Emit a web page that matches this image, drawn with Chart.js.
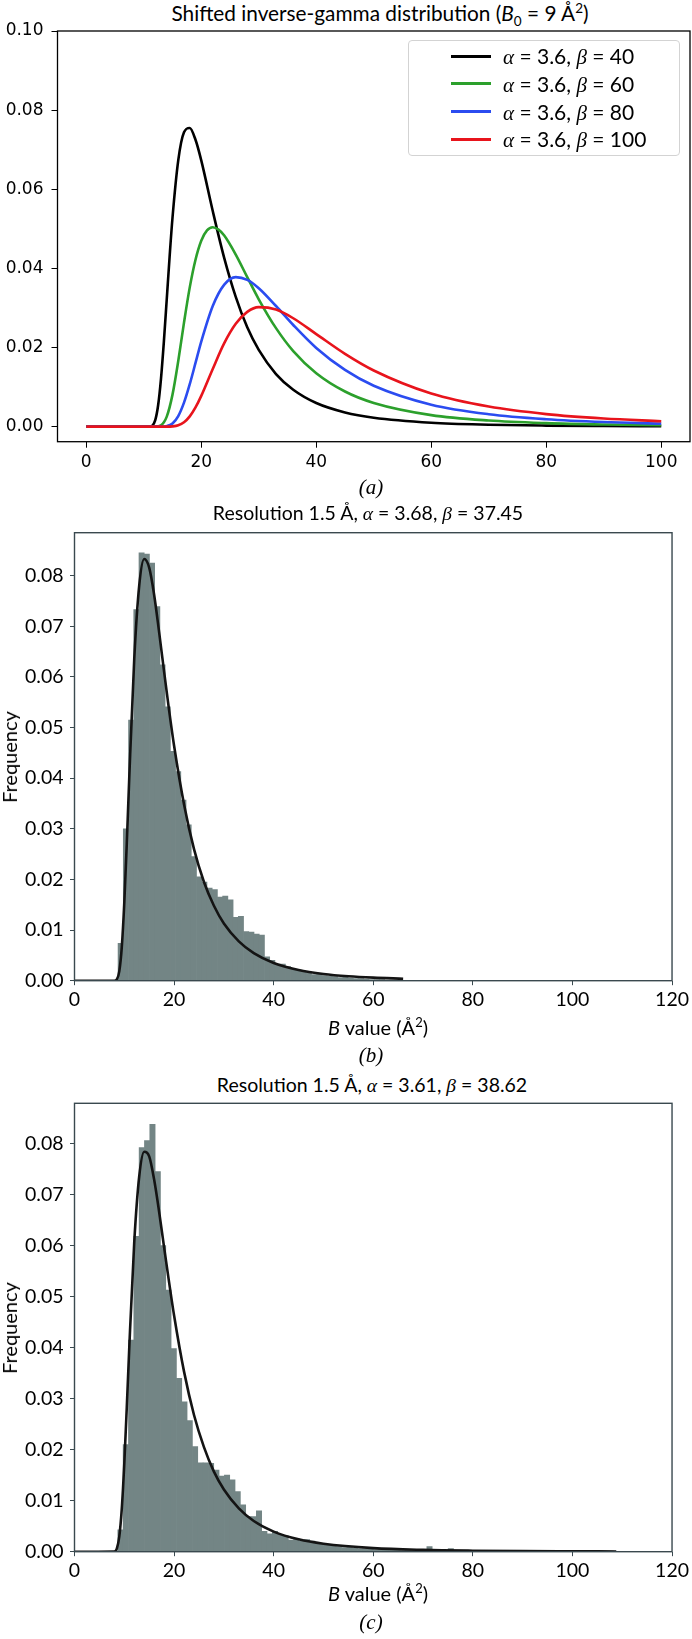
<!DOCTYPE html>
<html><head><meta charset="utf-8">
<script src="https://cdn.jsdelivr.net/npm/chart.js@4.4.1/dist/chart.umd.min.js"></script>
<style>
body{margin:0;background:#fff;}
#page{position:relative;width:692px;height:1639px;overflow:hidden;background:#fff;font-family:Lato,sans-serif;color:#000;}
.t{position:absolute;white-space:nowrap;transform:translate(-50%,-50%);line-height:1;}
.g{font-family:"Liberation Serif",serif;font-style:italic;}
.cap{font-family:"Liberation Serif",serif;font-style:italic;font-size:21px;}
.cv{position:absolute;left:0;}
#legend{position:absolute;left:408px;top:40px;width:272px;height:116px;border:1px solid #d3d3d3;border-radius:4px;box-sizing:border-box;background:rgba(255,255,255,0.8);}
.row{position:absolute;left:0;height:28px;}
.sw{position:absolute;left:42px;width:40px;height:3px;}
.lt{position:absolute;left:94px;font-size:21px;white-space:nowrap;transform:translateY(-50%);line-height:1;}
sub,sup{font-size:65%;line-height:0;}
</style></head><body><div id="page">

<div class="t" style="left:380px;top:13px;font-size:20.8px;">Shifted inverse-gamma distribution (<i>B</i><sub>0</sub> = 9 Å<sup>2</sup>)</div>
<canvas id="ca" class="cv" style="top:0px" width="692" height="480"></canvas>
<div id="legend"></div>
<div class="t cap" style="left:371px;top:487px;">(a)</div>

<div class="t" style="left:368px;top:513px;font-size:19.5px;">Resolution 1.5 Å, <span class="g">α</span> = 3.68, <span class="g">β</span> = 37.45</div>
<canvas id="cb" class="cv" style="top:500px" width="692" height="530"></canvas>
<div class="t" style="left:9px;top:757px;font-size:20px;transform:translate(-50%,-50%) rotate(-90deg);">Frequency</div>
<div class="t" style="left:378px;top:1027px;font-size:20px;"><i>B</i> value (Å<sup>2</sup>)</div>
<div class="t cap" style="left:371px;top:1055px;">(b)</div>

<div class="t" style="left:372px;top:1085px;font-size:19.5px;">Resolution 1.5 Å, <span class="g">α</span> = 3.61, <span class="g">β</span> = 38.62</div>
<canvas id="cc" class="cv" style="top:1070px" width="692" height="530"></canvas>
<div class="t" style="left:9px;top:1328px;font-size:20px;transform:translate(-50%,-50%) rotate(-90deg);">Frequency</div>
<div class="t" style="left:378px;top:1593px;font-size:20px;"><i>B</i> value (Å<sup>2</sup>)</div>
<div class="t cap" style="left:371px;top:1622px;">(c)</div>

</div>
<script>
// ---------------- Panel (a): shifted inverse-gamma curves ----------------
const seriesLabels = ['α = 3.6, β = 40','α = 3.6, β = 60','α = 3.6, β = 80','α = 3.6, β = 100'];
const seriesColors = ['#000000','#2ca02c','#2b4cf0','#e8141c'];
const xBeta40 = [0,10,11,11.5,12,12.5,13,13.5,14,14.5,15,16,17,18,19,20,22,24,26,28,30,33,36,40,45,50,60,70,80,90,100];
const yBeta40 = [0,0,0.00001,0.00026,0.00163,0.0054,0.01216,0.0215,0.0322,0.0430,0.0528,0.0673,0.0744,0.0755,0.0725,0.0673,0.0545,0.0426,0.0328,0.0251,0.0194,0.0133,0.00933,0.00598,0.0036,0.00226,0.0010,0.0005,0.00027,0.00016,0.0001];
const xBeta60 = [0,12,13,14,15,16,17,18,19,20,21,22,23,24,26,28,30,33,36,40,45,50,60,70,80,90,100];
const yBeta60 = [0,0,0.00035,0.00254,0.0081,0.0166,0.0263,0.0352,0.0422,0.0470,0.0496,0.0504,0.0498,0.0483,0.0435,0.0378,0.0322,0.0249,0.0191,0.0135,0.00888,0.00599,0.00292,0.00155,0.00089,0.00054,0.00034];
const xBeta80 = [0,13,14,15,16,17,18,19,20,22,24,26,28,30,33,36,40,45,50,60,70,80,90,100];
const yBeta80 = [0,0,0.00013,0.00081,0.00269,0.00608,0.01074,0.0161,0.0215,0.0305,0.0359,0.0378,0.0371,0.0350,0.0305,0.0257,0.0199,0.01435,0.01035,0.00556,0.00315,0.00189,0.00118,0.00077];
const xBeta100 = [0,14,15,16,17,18,19,20,22,24,26,28,30,33,36,40,45,50,60,70,80,90,100];
const yBeta100 = [0,0,0.000065,0.000345,0.00111,0.0026,0.00486,0.00779,0.0146,0.0211,0.0260,0.0290,0.0302,0.0296,0.0274,0.0234,0.0184,0.0142,0.00838,0.00508,0.00318,0.00206,0.00138];
const xTicksA = [0,20,40,60,80,100];
const yTicksA = [0,0.02,0.04,0.06,0.08,0.10];

// ---------------- Panel (b): histogram + fit ----------------
const binStartB = 8.75, binWidthB = 1.05;
const freqB = [0.0074,0.0300,0.0515,0.0733,0.0845,0.0843,0.0825,0.0739,0.0624,0.0541,0.0453,0.0413,0.0357,0.0308,0.0245,0.0205,0.0195,0.0183,0.0180,0.0165,0.0167,0.0160,0.0125,0.0127,0.0097,0.0096,0.0092,0.0090,0.0047,0.0040,0.0033,0.0033,0.0028,0.0024,0.0021,0.0018,0.0016,0.0012,0.0014,0.0010,0.0009,0.0008,0.0006,0.0007,0.0005,0.0004,0.0004,0.0003,0.0002,0.0002,0.0002,0.0001,0.0001];
const fitXB = [0,8,8.5,9,9.5,10,10.5,11,12,13,14,15,16,17,18,19,20,22,24,26,28,30,33,36,40,45,50,55,60,66];
const fitYB = [0,0,0.00026,0.0019,0.0067,0.0154,0.0271,0.0402,0.0636,0.0781,0.0833,0.0816,0.0762,0.0688,0.0610,0.0534,0.0464,0.0348,0.0260,0.0195,0.0148,0.0113,0.00776,0.00544,0.0035,0.00212,0.00134,0.00088,0.0006,0.00039];

// ---------------- Panel (c): histogram + fit ----------------
const binStartC = 8.7, binWidthC = 1.07;
const freqC = [0.0043,0.0210,0.0415,0.0618,0.0792,0.0806,0.0838,0.0745,0.0600,0.0513,0.0398,0.0340,0.0294,0.0257,0.0206,0.0174,0.0174,0.0173,0.0160,0.0148,0.0150,0.0141,0.0118,0.0092,0.0069,0.0069,0.0080,0.0040,0.0035,0.0040,0.0034,0.0031,0.0023,0.0026,0.0021,0.0024,0.0021,0.0017,0.0015,0.0013,0.0011,0.0010,0.0008,0.0009,0.0007,0.0006,0.0006,0.0005,0.0004,0.0004,0.0003,0.0003,0.0003,0.0002,0.0002,0.0002,0.0003,0.0002,0.0010,0.0002,0.0002,0.0002,0.0006,0.0002,0.0001,0.0001,0.0001,0.0001,0.0001,0.0001,0.0001,0.0001,0.0001,0.0001,0.0001,0.0001,0.0001,0.0001,0.0001,0.0001,0.0001,0.0001,0.0001,0.0001,0.0001,0.0001,0.0001,0.0001,0.0001,0.0001,0.0001,0.0001,0.0001];
const fitXC = [0,8,8.5,9,9.5,10,10.5,11,12,13,14,15,16,17,18,19,20,22,24,26,28,30,33,36,40,45,50,60,70,80,90,100,108.8];
const fitYC = [0,0.00005,0.00062,0.0030,0.0085,0.0173,0.0283,0.0400,0.0607,0.0736,0.0784,0.0775,0.0729,0.0666,0.0596,0.0528,0.0463,0.0353,0.0268,0.0205,0.0157,0.0122,0.00849,0.00602,0.00394,0.00242,0.00156,0.00071,0.00036,0.0002,0.00012,0.00008,0.00005];
const xTicksBC = [0,20,40,60,80,100,120];
const yTicksBC = [0,0.01,0.02,0.03,0.04,0.05,0.06,0.07,0.08];

// ---------------- helpers ----------------
const pts = (xs, ys) => xs.map((x, i) => ({x, y: ys[i]}));
const bars = (start, w, ys) => ys.map((y, i) => ({x: start + (i + 0.5) * w, y}));
const frame = (color, width) => ({id: 'frame', afterDatasetsDraw(chart) {
  const {ctx, chartArea: a} = chart; ctx.save(); ctx.strokeStyle = color; ctx.lineWidth = width;
  ctx.strokeRect(a.left, a.top, a.right - a.left, a.bottom - a.top); ctx.restore(); }});
function axis(o) {
  return {
    type: 'linear', min: o.min, max: o.max, offset: false,
    afterBuildTicks: s => { s.ticks = o.ticks.map(v => ({value: v})); },
    afterFit: s => { if (o.width !== undefined) s.width = o.width; if (o.height !== undefined) s.height = o.height; },
    border: {display: false},
    grid: {drawOnChartArea: false, offset: false, drawTicks: true, tickLength: o.tl, color: o.tc, tickWidth: 1},
    ticks: {color: '#000', font: o.font, padding: o.pad, autoSkip: false, maxRotation: 0, callback: o.fmt}
  };
}

// Panel (a)
const fontA = {family: 'DejaVu Sans', size: 17};
new Chart(document.getElementById('ca'), {
  type: 'line',
  data: {datasets: [
    {label: seriesLabels[0], data: pts(xBeta40, yBeta40), borderColor: seriesColors[0], order: 3},
    {label: seriesLabels[1], data: pts(xBeta60, yBeta60), borderColor: seriesColors[1], order: 2},
    {label: seriesLabels[2], data: pts(xBeta80, yBeta80), borderColor: seriesColors[2], order: 1},
    {label: seriesLabels[3], data: pts(xBeta100, yBeta100), borderColor: seriesColors[3], order: 0}
  ]},
  options: {
    responsive: false, animation: false, events: [],
    layout: {padding: {left: 0, right: 2, top: 31, bottom: 8.3}},
    elements: {line: {borderWidth: 2.6, cubicInterpolationMode: 'monotone', fill: false}, point: {radius: 0}},
    plugins: {legend: {display: false}, tooltip: {enabled: false}},
    scales: {
      x: axis({min: -5, max: 105, ticks: xTicksA, height: 30, tl: 6, tc: '#000', font: fontA, pad: 5, fmt: v => String(v)}),
      y: axis({min: -0.0038, max: 0.10, ticks: yTicksA, width: 57.5, tl: 6, tc: '#000', font: fontA, pad: 8, fmt: v => v.toFixed(2)})
    }
  },
  plugins: [frame('#000', 1.3)]
});

// legend (a)
const lg = document.getElementById('legend');
seriesLabels.forEach((lab, i) => {
  const r = document.createElement('div'); r.className = 'row'; r.style.top = (15 + i * 27.8) + 'px';
  const sw = document.createElement('div'); sw.className = 'sw'; sw.style.background = seriesColors[i]; sw.style.top = '-1.5px';
  const tx = document.createElement('div'); tx.className = 'lt';
  const m = lab.match(/α = ([\d.]+), β = (\d+)/);
  tx.innerHTML = '<span class="g">α</span> = ' + m[1] + ', <span class="g">β</span> = ' + m[2];
  r.appendChild(sw); r.appendChild(tx); lg.appendChild(r);
});

// Panels (b), (c)
const fontBC = {family: 'Lato', size: 19.5};
const axisCol = '#3a494f';
function histChart(id, start, w, freq, fx, fy, ymax, padTop, padBottom) {
  new Chart(document.getElementById(id), {
    type: 'bar',
    data: {datasets: [
      {type: 'line', data: pts(fx, fy), borderColor: '#141414', borderWidth: 2.6, pointRadius: 0, cubicInterpolationMode: 'monotone', fill: false, order: 0},
      {type: 'bar', data: bars(start, w, freq), backgroundColor: '#738585', borderWidth: 0, categoryPercentage: 1, barPercentage: 1, grouped: false, order: 1}
    ]},
    options: {
      responsive: false, animation: false, events: [],
      layout: {padding: {left: 0, right: 15.2, top: padTop, bottom: padBottom}},
      plugins: {legend: {display: false}, tooltip: {enabled: false}},
      scales: {
        x: axis({min: 0, max: 120, ticks: xTicksBC, height: 30, tl: 4.5, tc: axisCol, font: fontBC, pad: 3, fmt: v => String(v)}),
        y: axis({min: 0, max: ymax, ticks: yTicksBC, width: 74.5, tl: 4.5, tc: axisCol, font: fontBC, pad: 6.5, fmt: v => v.toFixed(2)})
      }
    },
    plugins: [frame(axisCol, 1.4)]
  });
}
histChart('cb', binStartB, binWidthB, freqB, fitXB, fitYB, 0.0885, 32.7, 19.3);
histChart('cc', binStartC, binWidthC, freqC, fitXC, fitYC, 0.0879, 33.3, 18.3);
</script>
</body></html>
